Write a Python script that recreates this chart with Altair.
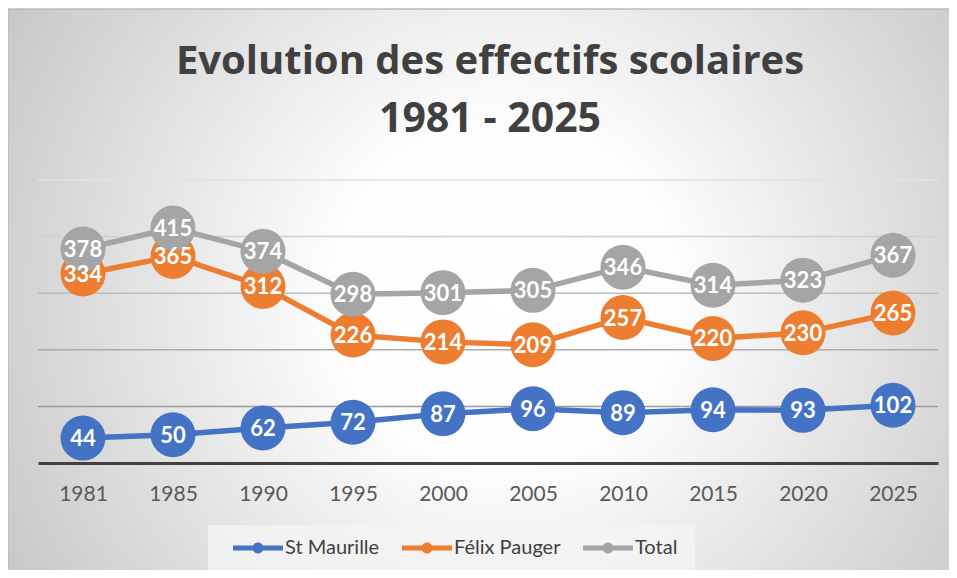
import altair as alt
import pandas as pd

years = ["1981", "1985", "1990", "1995", "2000", "2005", "2010", "2015", "2020", "2025"]
st_maurille = [44, 50, 62, 72, 87, 96, 89, 94, 93, 102]
felix_pauger = [334, 365, 312, 226, 214, 209, 257, 220, 230, 265]
total = [378, 415, 374, 298, 301, 305, 346, 314, 323, 367]
series_names = ["St Maurille", "Félix Pauger", "Total"]
series_colors = ["#4472C4", "#ED7D31", "#A5A5A5"]
grid_values = [100, 200, 300, 400, 500]
title_lines = ["Evolution des effectifs scolaires", "1981 - 2025"]

rows = []
for name, vals in zip(series_names, [st_maurille, felix_pauger, total]):
    for yr, v in zip(years, vals):
        rows.append({"year": yr, "value": v, "series": name})
df = pd.DataFrame(rows)
grid_df = pd.DataFrame({"value": grid_values})
one = pd.DataFrame({"a": [0]})

FONT = "Lato"
LEG_PATH = ("M-1,-0.1H1V0.1H-1Z "
            "M0.22,0A0.22,0.22 0 1 1 -0.22,0A0.22,0.22 0 1 1 0.22,0Z")

yscale = alt.Scale(domain=[0, 500], nice=False, zero=True)
x_enc = alt.X("year:O", sort=years, scale=alt.Scale(type="point", padding=0.5),
              axis=alt.Axis(title=None, labelAngle=0, ticks=False, domain=True,
                            domainColor="#404040", domainWidth=3,
                            labelFont=FONT, labelFontSize=21, labelColor="#595959",
                            labelPadding=20, grid=False, zindex=1))
y_enc = alt.Y("value:Q", scale=yscale, axis=None)

bg = alt.Chart(one).mark_rect(
    fill={"gradient": "radial",
          "stops": [{"offset": 0, "color": "#ffffff"},
                    {"offset": 0.25, "color": "#fdfdfd"},
                    {"offset": 1, "color": "#b8b8b8"}],
          "x1": 0.52, "y1": 0.5, "x2": 0.52, "y2": 0.5, "r1": 0, "r2": 0.72},
    stroke="#bcbcbc", strokeWidth=1.5
).encode(x=alt.value(-30), x2=alt.value(925), y=alt.value(-171), y2=alt.value(400))

legend_box = alt.Chart(one).mark_rect(fill="#f4f4f4", opacity=0.8).encode(
    x=alt.value(170), x2=alt.value(657), y=alt.value(345), y2=alt.value(391))

grid = alt.Chart(grid_df).mark_rule(strokeWidth=1.5).encode(
    y=alt.Y("value:Q", scale=yscale, axis=None),
    stroke=alt.Stroke("value:Q", scale=alt.Scale(domain=[100, 500], range=["#9a9a9a", "#e2e2e2"]),
                      legend=None))

color_scale = alt.Scale(domain=series_names, range=series_colors)
legend = alt.Legend(orient="none", legendX=195, legendY=343,
                    direction="horizontal", title=None,
                    symbolType=LEG_PATH, symbolSize=2500,
                    symbolStrokeWidth=0, symbolOpacity=1,
                    labelFont=FONT, labelFontSize=20,
                    labelColor="#404040", labelOffset=2,
                    columnPadding=22, padding=0)
color_enc = alt.Color("series:N", scale=color_scale, legend=legend)

lines = alt.Chart(df).mark_line(strokeWidth=5.5).encode(
    x=x_enc, y=y_enc, color=color_enc)

points = alt.Chart(df).mark_circle(size=2025, opacity=1).encode(
    x=x_enc, y=y_enc, color=color_enc)

labels = alt.Chart(df).mark_text(color="white", font=FONT, fontWeight="bold",
                                 fontSize=22, baseline="middle", align="center", dy=1).encode(
    x=x_enc, y=y_enc, text="value:Q", detail="series:N")

t1 = alt.Chart(one).mark_text(text=title_lines[0], font="Open Sans", fontWeight="bold", fontSize=40,
                              color="#404040", align="center", baseline="alphabetic").encode(
    x=alt.value(452), y=alt.value(-106))
t2 = alt.Chart(one).mark_text(text=title_lines[1], font="Open Sans", fontWeight="bold", fontSize=41,
                              color="#404040", align="center", baseline="alphabetic").encode(
    x=alt.value(452), y=alt.value(-48))

chart = alt.layer(bg, legend_box, grid, lines, points, labels, t1, t2).properties(
    width=900, height=283,
    autosize=alt.AutoSizeParams(type="none"),
    padding={"left": 30, "top": 172, "right": 11, "bottom": 107},
).resolve_scale(stroke="independent").configure_view(stroke=None)

chart.save("out.html", embed_options={"renderer": "svg", "actions": False})
